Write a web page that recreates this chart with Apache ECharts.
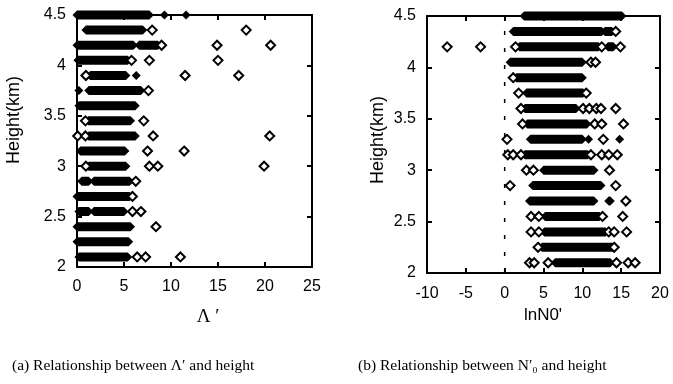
<!DOCTYPE html>
<html>
<head>
<meta charset="utf-8">
<script src="https://cdn.jsdelivr.net/npm/echarts@6/dist/echarts.min.js"></script>
<style>
  html, body { margin: 0; background: #fff; }
  #chart { width: 673px; height: 384px; }
</style>
</head>
<body>
<div id="chart"></div>
<script>
// (a) Lambda' vs height: solid runs of overlapping diamonds [height, from, to]
const lamBands = [
  [4.5, 0, 7.7], [4.5, 9.3, 9.3], [4.5, 11.6, 11.6],
  [4.35, 0.95, 7.0],
  [4.2, 0, 6.0], [4.2, 6.6, 8.6],
  [4.05, 0.1, 5.4],
  [3.9, 1.4, 5.2], [3.9, 6.3, 6.3],
  [3.75, 0.2, 0.2], [3.75, 1.25, 6.8],
  [3.6, 0.2, 6.2],
  [3.45, 1.2, 5.7],
  [3.3, 1.25, 6.2],
  [3.15, 0.35, 5.1],
  [3.0, 1.25, 5.2],
  [2.85, 0.5, 1.25], [2.85, 1.8, 5.6],
  [2.7, 0, 5.6],
  [2.55, 0.2, 1.25], [2.55, 1.8, 5.0],
  [2.4, 0, 5.7],
  [2.25, 0, 5.5],
  [2.1, 0.2, 5.4]
]
// single hollow diamonds [Lambda', height]
const lamPoints = [
  [8.0, 4.35], [18.0, 4.35],
  [9.0, 4.2], [14.9, 4.2], [20.6, 4.2],
  [5.8, 4.05], [7.7, 4.05], [15.0, 4.05],
  [0.95, 3.9], [11.5, 3.9], [17.2, 3.9],
  [7.6, 3.75],
  [0.9, 3.45], [7.1, 3.45],
  [0.07, 3.3], [0.9, 3.3], [8.1, 3.3], [20.5, 3.3],
  [7.5, 3.15], [11.4, 3.15],
  [0.95, 3.0], [7.7, 3.0], [8.6, 3.0], [19.9, 3.0],
  [6.25, 2.85],
  [5.9, 2.7],
  [5.9, 2.55], [6.8, 2.55],
  [8.4, 2.4],
  [6.4, 2.1], [7.3, 2.1], [11.0, 2.1]
]

// (b) lnN0' vs height
const n0Bands = [
  [4.5, 2.5, 15.1],
  [4.35, 1.1, 12.5], [4.35, 12.9, 13.8],
  [4.2, 1.9, 12.1], [4.2, 13.3, 14.0],
  [4.05, 0.7, 10.0],
  [3.9, 1.5, 10.0],
  [3.75, 2.8, 10.1],
  [3.6, 2.6, 9.2],
  [3.45, 2.9, 10.6],
  [3.3, 3.3, 10.0], [3.3, 10.8, 10.8], [3.3, 14.8, 14.8],
  [3.15, 2.6, 10.7],
  [3.0, 5.0, 11.5],
  [2.85, 3.6, 12.4],
  [2.7, 3.2, 11.5], [2.7, 13.4, 13.6],
  [2.55, 5.2, 12.2],
  [2.4, 5.1, 13.0],
  [2.25, 4.8, 13.9],
  [2.1, 6.5, 13.6]
]
const n0Points = [
  [-7.4, 4.2], [-3.1, 4.2], [1.4, 4.2], [12.5, 4.2], [14.9, 4.2],
  [14.3, 4.35],
  [11.1, 4.05], [11.7, 4.05],
  [1.1, 3.9],
  [1.8, 3.75], [10.5, 3.75],
  [2.1, 3.6], [10.1, 3.6], [10.9, 3.6], [11.8, 3.6], [12.4, 3.6], [14.3, 3.6],
  [2.3, 3.45], [11.6, 3.45], [12.5, 3.45], [15.3, 3.45],
  [0.3, 3.3], [12.7, 3.3],
  [0.4, 3.15], [1.1, 3.15], [2.1, 3.15], [11.1, 3.15], [12.5, 3.15], [13.4, 3.15], [14.5, 3.15],
  [2.8, 3.0], [3.7, 3.0], [13.5, 3.0],
  [0.7, 2.85], [14.3, 2.85],
  [15.6, 2.7],
  [3.4, 2.55], [4.4, 2.55], [12.6, 2.55], [15.2, 2.55],
  [3.4, 2.4], [4.4, 2.4], [13.4, 2.4], [14.1, 2.4], [15.7, 2.4],
  [4.3, 2.25], [14.1, 2.25],
  [3.2, 2.1], [3.8, 2.1], [5.6, 2.1], [14.4, 2.1], [15.9, 2.1], [16.8, 2.1]
]
// dashed reference line lnN0' = 0
const n0Ref = [[0, 2], [0, 4.45]]

const chart = echarts.init(document.getElementById('chart'))

const R = 4.5 // half size of a diamond, px
function bandItem (params, api) {
  const a = api.coord([api.value(1), api.value(0)])
  const b = api.coord([api.value(2), api.value(0)])
  return {
    type: 'polygon',
    shape: {
      points: [
        [a[0] - R, a[1]], [a[0], a[1] - R], [b[0], b[1] - R],
        [b[0] + R, b[1]], [b[0], b[1] + R], [a[0], a[1] + R]
      ]
    },
    style: { fill: '#000' }
  }
}

const axisLine = { onZero: false, lineStyle: { color: '#000', width: 2 } }
const axisTick = { inside: true, length: 5, lineStyle: { color: '#000', width: 2 } }
const tickFont = { color: '#000', fontFamily: 'Liberation Sans', fontSize: 16 }

function xAxes (grid, min, max, margin) {
  return [
    { gridIndex: grid, type: 'value', min, max, interval: 5, axisLine, axisTick,
      splitLine: { show: false }, axisLabel: Object.assign({ margin }, tickFont) },
    { gridIndex: grid, type: 'value', position: 'top', min, max, interval: 5, axisLine, axisTick,
      splitLine: { show: false }, axisLabel: { show: false } }
  ]
}
function yAxes (grid) {
  return [
    { gridIndex: grid, type: 'value', min: 2, max: 4.5, interval: 0.5, axisLine, axisTick,
      splitLine: { show: false }, axisLabel: Object.assign({ margin: 11 }, tickFont) },
    { gridIndex: grid, type: 'value', position: 'right', min: 2, max: 4.5, interval: 0.5, axisLine, axisTick,
      splitLine: { show: false }, axisLabel: { show: false } }
  ]
}

const hollow = {
  type: 'scatter', symbol: 'diamond', symbolSize: 9,
  itemStyle: { color: '#fff', borderColor: '#000', borderWidth: 2, opacity: 1 }
}

const option = {
  animation: false,
  backgroundColor: '#fff',
  grid: [
    { left: 77, top: 15, width: 235, height: 252 },
    { left: 427, top: 16, width: 233, height: 257 }
  ],
  xAxis: [].concat(xAxes(0, 0, 25, 12), xAxes(1, -10, 20, 13)),
  yAxis: [].concat(yAxes(0), yAxes(1)),
  series: [
    { type: 'line', xAxisIndex: 2, yAxisIndex: 2, data: n0Ref, symbol: 'none',
      lineStyle: { color: '#000', width: 1.5, type: [4, 13] }, z: 1 },
    { type: 'custom', xAxisIndex: 0, yAxisIndex: 0, renderItem: bandItem,
      encode: { x: [1, 2], y: 0 }, data: lamBands },
    Object.assign({ xAxisIndex: 0, yAxisIndex: 0, data: lamPoints }, hollow),
    { type: 'custom', xAxisIndex: 2, yAxisIndex: 2, renderItem: bandItem,
      encode: { x: [1, 2], y: 0 }, data: n0Bands },
    Object.assign({ xAxisIndex: 2, yAxisIndex: 2, data: n0Points }, hollow)
  ],
  graphic: [
    { type: 'text', x: 14, y: 120, rotation: Math.PI / 2,
      style: { text: 'Height(km)', fill: '#000', font: '18px "Liberation Sans"', align: 'center', verticalAlign: 'middle' } },
    { type: 'text', x: 378, y: 140, rotation: Math.PI / 2,
      style: { text: 'Height(km)', fill: '#000', font: '18px "Liberation Sans"', align: 'center', verticalAlign: 'middle' } },
    { type: 'text', x: 208, y: 317,
      style: { text: 'Λ ′', fill: '#000', font: '19px "Liberation Serif"', align: 'center', verticalAlign: 'middle' } },
    { type: 'text', x: 543, y: 315,
      style: { text: "lnN0'", fill: '#000', font: '17px "Liberation Sans"', align: 'center', verticalAlign: 'middle' } },
    { type: 'text', x: 12, y: 366,
      style: { text: '(a) Relationship between Λ′ and height', fill: '#000', font: '15.5px "Liberation Serif"', verticalAlign: 'middle' } },
    { type: 'text', x: 358, y: 366,
      style: { text: '(b) Relationship between N′₀ and height', fill: '#000', font: '15.5px "Liberation Serif"', verticalAlign: 'middle' } }
  ]
}

chart.setOption(option)
</script>
</body>
</html>
